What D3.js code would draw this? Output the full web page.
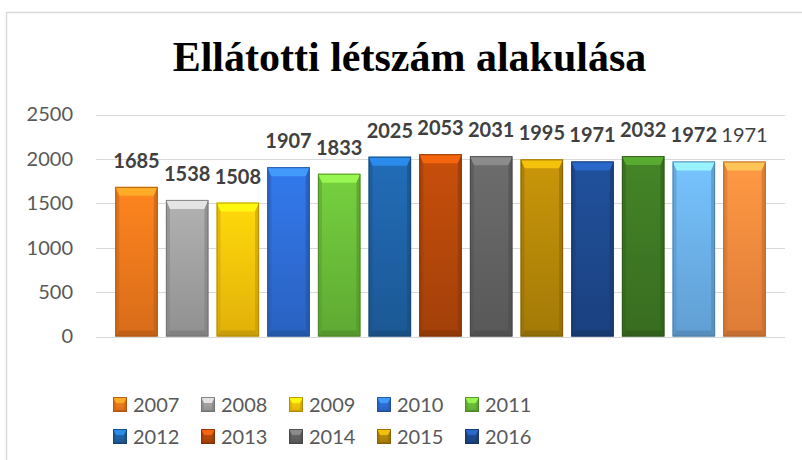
<!DOCTYPE html>
<html>
<head>
<meta charset="utf-8">
<script src="https://cdn.jsdelivr.net/npm/d3@7"></script>
<style>
html,body{margin:0;padding:0;background:#fff;}
svg{display:block;}
</style>
</head>
<body>
<svg id="chart" width="802" height="460"></svg>
<script>
const years = ["2007","2008","2009","2010","2011","2012","2013","2014","2015","2016","2017","2018","2019"];
const values = [1685,1538,1508,1907,1833,2025,2053,2031,1995,1971,2032,1972,1971];
const colors = ["#f57a1c","#a3a3a3","#ffc70a","#2f6fd9","#6cbf3a","#1f64a8","#b8480a","#646464","#b98a08","#1e4a90","#3f7a24","#6db3ee","#fb8c3e"];
const boldLabel = [true,true,true,true,true,true,true,true,true,true,true,true,false];
const legendYears = ["2007","2008","2009","2010","2011","2012","2013","2014","2015","2016"];
const yTicks = [0,500,1000,1500,2000,2500];
const title = "Ellátotti létszám alakulása";

const svg = d3.select("#chart");
const defs = svg.append("defs");

// frame
svg.append("path").attr("d","M6.5,460 V12.5 H802").attr("fill","none").attr("stroke","#d9d9d9").attr("stroke-width",1.5);

svg.append("text").attr("x",409.5).attr("y",70.5).attr("text-anchor","middle")
  .attr("font-family","'Liberation Serif','Times New Roman',serif").attr("font-weight","bold")
  .attr("font-size",42).attr("fill","#000").text(title);

const x = d3.scaleBand().domain(years).range([96,785]).paddingInner(0.161).paddingOuter(0.38);
const y = d3.scaleLinear().domain([0,2500]).range([336.5,114.5]);

// gridlines
svg.append("g").selectAll("line").data(yTicks).join("line")
  .attr("x1",96).attr("x2",785).attr("y1",d=>Math.round(y(d))+0.5).attr("y2",d=>Math.round(y(d))+0.5)
  .attr("stroke","#d9d9d9").attr("stroke-width",1);

// y axis labels
const yAxis = d3.axisLeft(y).tickValues(yTicks).tickSize(0).tickPadding(0).tickFormat(d3.format("d"));
const ga = svg.append("g").attr("transform","translate(73,0)").call(yAxis);
ga.select(".domain").remove();
ga.selectAll("text").attr("font-family","Lato, 'Open Sans', sans-serif").attr("font-size",20).attr("fill","#595959");

function gradId(i){return "g"+i;}
colors.forEach((c,i)=>{
  const g = defs.append("linearGradient").attr("id",gradId(i)).attr("x1",0).attr("y1",0).attr("x2",0).attr("y2",1);
  g.append("stop").attr("offset","0%").attr("stop-color",d3.color(c).brighter(0.25));
  g.append("stop").attr("offset","100%").attr("stop-color",d3.color(c).darker(0.35));
});

function bevel(g, x0, x1, y0, y1, c, gi, t, s, b){
  g.append("rect").attr("x",x0).attr("y",y0).attr("width",x1-x0).attr("height",y1-y0).attr("fill",`url(#${gradId(gi)})`);
  g.append("path").attr("d",`M${x0},${y0}L${x1},${y0}L${x1-s},${y0+t}L${x0+s},${y0+t}Z`).attr("fill",d3.color(c).brighter(1.1)).attr("opacity",0.8);
  g.append("path").attr("d",`M${x0},${y0}L${x0+s},${y0+t}L${x0+s},${y1-b}L${x0},${y1}Z`).attr("fill",d3.color(c).darker(0.6)).attr("opacity",0.5);
  g.append("path").attr("d",`M${x1},${y0}L${x1-s},${y0+t}L${x1-s},${y1-b}L${x1},${y1}Z`).attr("fill",d3.color(c).darker(0.8)).attr("opacity",0.55);
  g.append("path").attr("d",`M${x0},${y1}L${x0+s},${y1-b}L${x1-s},${y1-b}L${x1},${y1}Z`).attr("fill",d3.color(c).darker(0.9)).attr("opacity",0.6);
  g.append("rect").attr("x",x0+0.5).attr("y",y0+0.5).attr("width",x1-x0-1).attr("height",y1-y0-1).attr("fill","none").attr("stroke",d3.color(c).darker(1.1)).attr("stroke-width",1).attr("opacity",0.8);
}

const bars = svg.append("g");
years.forEach((yr,i)=>{
  const x0 = x(yr), x1 = x(yr)+x.bandwidth();
  const y0 = y(values[i]), y1 = y(0);
  bevel(bars, x0, x1, y0, y1, colors[i], i, 9, 4, 6);
});

svg.append("g").selectAll("text").data(values).join("text")
  .attr("x",(d,i)=>x(years[i])+x.bandwidth()/2)
  .attr("y",d=>y(d)-19)
  .attr("text-anchor","middle")
  .attr("font-family","Lato, 'Open Sans', sans-serif").attr("font-size",20)
  .attr("font-weight",(d,i)=>boldLabel[i]?"bold":"normal")
  .attr("fill","#404040").text(d=>d);

// legend
const lg = svg.append("g");
legendYears.forEach((yr,i)=>{
  const col = i%5, row = Math.floor(i/5);
  const lx = 113 + col*88, ly = 397 + row*32;
  bevel(lg, lx, lx+14, ly, ly+15, colors[i], i, 6, 3, 2);
  lg.append("text").attr("x",lx+20).attr("y",ly+14.5)
    .attr("font-family","Lato, 'Open Sans', sans-serif").attr("font-size",20).attr("fill","#595959").text(yr);
});
</script>
</body>
</html>
